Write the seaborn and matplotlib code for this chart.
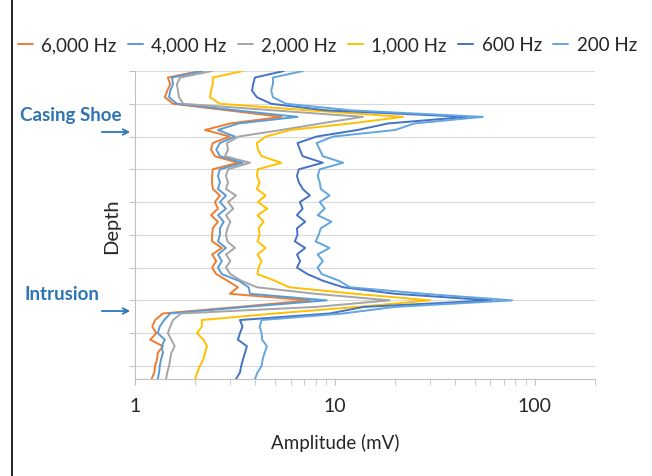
import matplotlib
matplotlib.use('Agg')
import matplotlib.pyplot as plt
from matplotlib.lines import Line2D
import numpy as np
import pandas as pd
import seaborn as sns

# depth samples (grid units, 0 = top gridline)
depth = np.linspace(0, 9.4, 48)

freqs = ['6,000 Hz', '4,000 Hz', '2,000 Hz', '1,000 Hz', '600 Hz', '200 Hz']
colors = ['#ED7D31', '#5B9BD5', '#A5A5A5', '#FFC000', '#4472C4', '#62A6DF']

amp_6000 = [2.11, 1.46, 1.50, 1.45, 1.41, 1.55, 2.9, 5.4, 3.0, 2.24,
            2.98, 2.45, 2.40, 2.51, 3.27, 2.45, 2.43, 2.43, 2.45, 2.66,
            2.51, 2.60, 2.40, 2.60, 2.45, 2.43, 2.43, 2.72, 2.43, 2.55,
            2.43, 2.55, 2.90, 3.27, 2.98, 7.5, 3.3, 1.38, 1.26, 1.22,
            1.28, 1.19, 1.38, 1.30, 1.29, 1.26, 1.25, 1.21]
amp_4000 = [2.19, 1.53, 1.55, 1.50, 1.48, 1.62, 3.2, 6.5, 3.3, 2.6,
            3.16, 2.66, 2.55, 2.66, 3.47, 2.66, 2.60, 2.66, 2.60, 2.85,
            2.66, 2.85, 2.60, 2.78, 2.66, 2.66, 2.60, 2.85, 2.60, 2.72,
            2.60, 2.72, 3.3, 3.7, 3.76, 9.1, 3.6, 1.50, 1.40, 1.33,
            1.30, 1.41, 1.36, 1.38, 1.35, 1.33, 1.32, 1.30]
amp_2000 = [2.43, 1.68, 1.62, 1.64, 1.66, 1.74, 4.9, 13.8, 8.5, 5.4,
            3.3, 2.88, 2.92, 2.82, 3.76, 2.92, 2.85, 2.92, 2.85, 3.2,
            2.92, 3.1, 2.85, 3.0, 2.9, 2.85, 2.9, 3.16, 2.85, 3.0,
            2.85, 3.0, 3.4, 4.07, 8.0, 18.8, 8.0, 1.7, 1.55, 1.50,
            1.46, 1.52, 1.58, 1.52, 1.50, 1.48, 1.45, 1.43]
amp_1000 = [3.47, 2.45, 2.45, 2.40, 2.37, 2.66, 7.4, 21.9, 12.0, 6.0,
            4.5, 4.07, 4.12, 4.3, 5.4, 4.12, 4.07, 4.2, 4.07, 4.5,
            4.12, 4.6, 4.1, 4.4, 4.15, 4.2, 4.1, 4.5, 4.1, 4.3,
            4.15, 4.1, 5.0, 5.9, 12.6, 29.9, 13.0, 5.0, 2.16, 2.16,
            2.04, 2.2, 2.29, 2.24, 2.2, 2.11, 2.05, 2.0]
amp_600 = [5.55, 3.98, 3.9, 3.85, 4.07, 4.8, 9.0, 45.7, 18.5, 13.0,
           8.1, 6.5, 6.68, 6.9, 8.7, 6.6, 6.46, 6.6, 6.9, 7.5,
           6.68, 6.9, 6.46, 7.1, 6.46, 6.5, 6.3, 7.1, 6.46, 6.7,
           6.46, 7.3, 8.7, 11.0, 20.0, 60.8, 14.0, 9.4, 3.35, 3.45,
           3.35, 3.27, 3.63, 3.55, 3.47, 3.4, 3.35, 3.2]
amp_200 = [6.92, 4.9, 4.9, 4.8, 4.9, 5.7, 12.0, 55.0, 25.0, 20.0,
           9.8, 8.1, 8.4, 8.7, 11.0, 8.4, 8.2, 8.4, 8.5, 9.4,
           8.4, 8.9, 8.2, 9.6, 8.5, 8.3, 8.0, 9.4, 8.2, 8.7,
           8.2, 8.6, 10.5, 11.9, 28.0, 76.9, 20.0, 11.0, 4.3, 4.2,
           4.3, 4.32, 4.57, 4.45, 4.35, 4.3, 4.1, 3.98]

series = [amp_6000, amp_4000, amp_2000, amp_1000, amp_600, amp_200]
df = pd.concat([pd.DataFrame({'depth': depth, 'amp': s, 'freq': f})
                for f, s in zip(freqs, series)], ignore_index=True)

sns.set_style('white')
plt.rcParams['font.family'] = ['Lato', 'DejaVu Sans']

fig = plt.figure(figsize=(6.52, 4.77), dpi=100)
ax = fig.add_axes([135/652, 1-380/477, (595-135)/652, (380-72)/477])

sns.lineplot(data=df, x='amp', y='depth', hue='freq', hue_order=freqs,
             palette=dict(zip(freqs, colors)), orient='y', estimator=None,
             linewidth=1.4, ax=ax)

ax.set_xscale('log')
ax.set_xlim(1, 200)
ax.set_ylim(9.4, 0)
ax.set_xticks([1, 10, 100])
ax.set_xticklabels(['1', '10', '100'])
ax.set_yticks(range(10))
ax.yaxis.grid(True, color='#D9D9D9', lw=0.8)
ax.xaxis.grid(False)
ax.tick_params(axis='y', left=True, length=4, color='#BFBFBF', labelleft=False)
ax.tick_params(axis='x', which='both', bottom=True, length=4, color='#BFBFBF',
               labelsize=14, pad=9)
ax.xaxis.set_minor_formatter(matplotlib.ticker.NullFormatter())
for side in ['top', 'right']:
    ax.spines[side].set_visible(False)
for side in ['left', 'bottom']:
    ax.spines[side].set_color('#BFBFBF')
    ax.spines[side].set_linewidth(0.8)

ax.set_xlabel('Amplitude (mV)', fontsize=13.5, labelpad=5)
ax.xaxis.set_label_coords((335-135)/460, -0.175)
ax.set_ylabel('Depth', fontsize=14.5, labelpad=7)

handles, labels = ax.get_legend_handles_labels()
ax.get_legend().remove()
fig.legend(handles, labels, ncol=6, loc='center', bbox_to_anchor=(0.502, 0.904),
           frameon=False, fontsize=13.5, handlelength=0.8, handletextpad=0.45,
           columnspacing=0.6)

blue = '#2E75B6'
fig.text(20/652, 1-116/477, 'Casing Shoe', color=blue, fontsize=13.5,
         fontweight='bold', va='center')
fig.text(24/652, 1-295/477, 'Intrusion', color=blue, fontsize=13.5,
         fontweight='bold', va='center')
for yp in [133, 312]:
    ax.annotate('', xy=(133/652, 1-yp/477), xytext=(99/652, 1-yp/477),
                xycoords='figure fraction', textcoords='figure fraction',
                arrowprops=dict(arrowstyle='->', color=blue, lw=1.3))

fig.add_artist(Line2D([12/652, 12/652], [0, 1], color='black', lw=1.2,
                      transform=fig.transFigure))

fig.savefig('out.png', dpi=100)
